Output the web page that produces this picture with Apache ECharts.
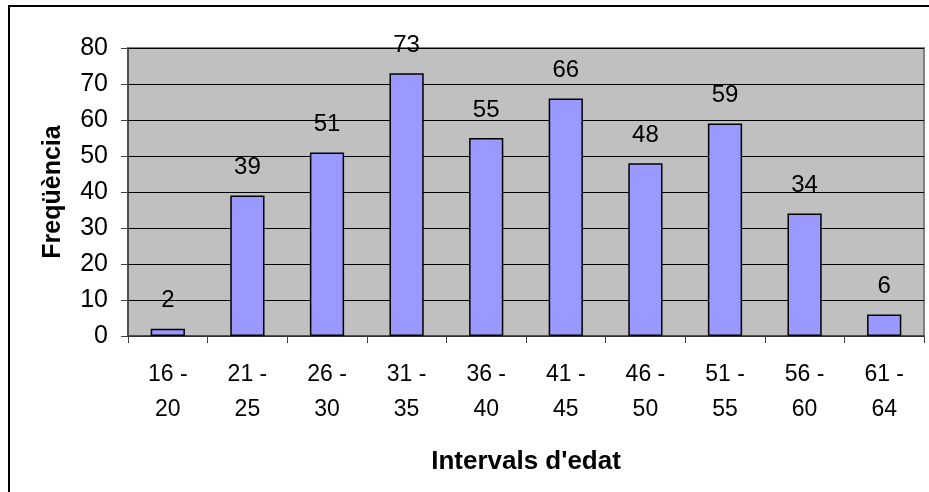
<!DOCTYPE html>
<html><head><meta charset="utf-8">
<script src="https://cdn.jsdelivr.net/npm/echarts@6/dist/echarts.min.js"></script>
<style>html,body{margin:0;padding:0;background:#fff}#c{width:929px;height:492px}</style>
</head><body><div id="c"></div>
<script>
const categories = ['16 -\n20','21 -\n25','26 -\n30','31 -\n35','36 -\n40','41 -\n45','46 -\n50','51 -\n55','56 -\n60','61 -\n64'];
const values = [2,39,51,73,55,66,48,59,34,6];
const yMin = 0, yMax = 80, yStep = 10;
const xTitle = "Intervals d'edat";
const yTitle = 'Freqüència';

const FONT = '"Liberation Sans", Arial, sans-serif';
const chart = echarts.init(document.getElementById('c'), null, {renderer:'canvas'});
chart.setOption({
  animation:false,
  backgroundColor:'#fff',
  textStyle:{fontFamily:FONT},
  graphic:[{type:'rect',shape:{x:9,y:6,width:960,height:520},style:{fill:'none',stroke:'#000',lineWidth:2},z:100}],
  grid:{left:128,right:5,top:48,bottom:156,show:true,backgroundColor:'#c0c0c0',borderColor:'#808080',borderWidth:2},
  xAxis:{type:'category',data:categories,
    name:xTitle,nameLocation:'middle',nameGap:113,
    nameTextStyle:{fontFamily:FONT,fontSize:26,fontWeight:'bold',color:'#000'},
    axisLine:{lineStyle:{color:'#404040',width:1.5}},
    axisTick:{show:true,length:7,alignWithLabel:false,lineStyle:{color:'#404040'}},
    axisLabel:{fontFamily:FONT,fontSize:23,color:'#000',lineHeight:35,margin:21,interval:0}},
  yAxis:{type:'value',min:yMin,max:yMax,interval:yStep,
    name:yTitle,nameLocation:'middle',nameGap:62,
    nameTextStyle:{fontFamily:FONT,fontSize:25,fontWeight:'bold',color:'#000'},
    axisLine:{show:true,lineStyle:{color:'#404040',width:1.5}},
    axisTick:{show:true,length:7,lineStyle:{color:'#404040'}},
    splitLine:{lineStyle:{color:'#000',width:1}},
    axisLabel:{fontFamily:FONT,fontSize:25,color:'#000',margin:20}},
  series:[{type:'bar',data:values,barWidth:'43%',
    itemStyle:{color:'#9999ff',borderColor:'#000',borderWidth:1.5},
    label:{show:true,position:'top',distance:16,fontFamily:FONT,fontSize:24,color:'#000'}}]
});
</script></body></html>
